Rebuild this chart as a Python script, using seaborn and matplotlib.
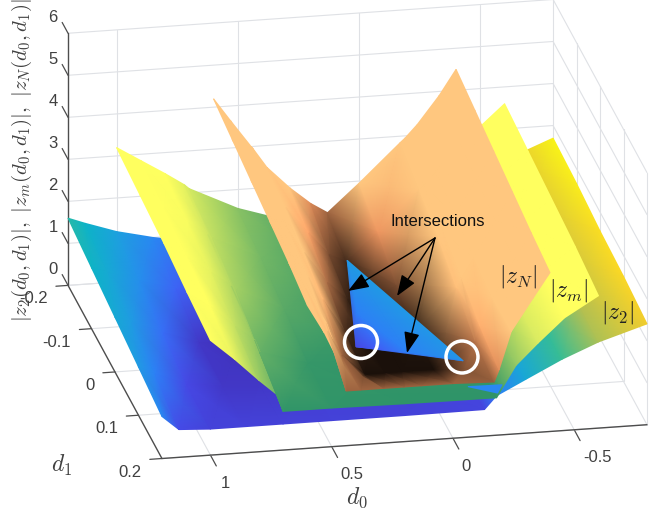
import numpy as np
import matplotlib
matplotlib.use("Agg")
import matplotlib.pyplot as plt
from matplotlib.patches import Circle
from mpl_toolkits.mplot3d import proj3d
import seaborn as sns

# ticks
d0_ticks = [1, 0.5, 0, -0.5]
d0_tick_labels = ["1", "0.5", "0", "-0.5"]
d1_ticks = [-0.2, -0.1, 0, 0.1, 0.2]
d1_tick_labels = ["-0.2", "-0.1", "0", "0.1", "0.2"]
z_ticks = [0, 1, 2, 3, 4, 5, 6]

# |z_2|, rows go back to front
z2_d0 = [1.2, 1.13, 1.0, 0.85, 0.7, 0.5, 0.2, -0.13, -0.18, -0.3, -0.45, -0.6, -0.8]
z2_d1 = [-0.2, -0.1, 0, 0.1, 0.2]
z2_vals = [
    [1.6, 1.45, 1.2, 1.0, 0.85, 0.7, 0.65, 0.8, 0.9, 1.3, 1.8, 2.25, 2.7],
    [1.45, 1.3, 1.05, 0.8, 0.65, 0.6, 0.6, 0.7, 0.85, 1.25, 1.75, 2.2, 2.65],
    [1.3, 1.15, 0.85, 0.55, 0.5, 0.55, 0.6, 0.65, 0.85, 1.2, 1.7, 2.15, 2.55],
    [1.15, 0.95, 0.65, 0.55, 0.55, 0.6, 0.6, 0.63, 0.85, 1.2, 1.65, 2.1, 2.5],
    [1.0, 0.66, 0.62, 0.62, 0.62, 0.62, 0.62, 0.63, 0.94, 1.28, 1.7, 2.05, 2.4],
]

# |z_m|
zm_d0 = [1.0, 0.9, 0.8, 0.72, 0.7, 0.5, 0.2, -0.18, -0.2, -0.26, -0.35, -0.46, -0.6]
zm_d1 = [-0.2, -0.1, 0, 0.1, 0.2]
zm_vals = [
    [3.2, 2.85, 2.5, 2.2, 2.1, 1.55, 1.0, 1.45, 1.55, 1.85, 2.3, 2.9, 3.6],
    [3.1, 2.75, 2.35, 2.05, 1.95, 1.4, 1.0, 1.3, 1.4, 1.7, 2.25, 2.85, 3.5],
    [3.0, 2.6, 2.2, 1.85, 1.75, 1.2, 0.95, 1.1, 1.2, 1.6, 2.2, 2.8, 3.4],
    [2.85, 2.45, 1.95, 1.6, 1.3, 0.95, 0.92, 0.95, 1.15, 1.6, 2.15, 2.72, 3.3],
    [2.73, 2.24, 1.7, 1.3, 0.92, 0.92, 0.9, 0.89, 1.08, 1.63, 2.12, 2.68, 3.15],
]

# |z_N|
zn_d0 = [0.6, 0.53, 0.445, 0.44, 0.38, 0.285, 0.2, 0.13, 0.0, -0.17, -0.19, -0.24, -0.33, -0.4]
zn_d1 = [-0.2, -0.12, -0.04, 0.04, 0.12, 0.2]
zn_vals = [
    [4.2, 3.65, 3.0, 2.97, 2.48, 1.95, 1.55, 1.3, 1.95, 2.85, 2.95, 3.25, 3.9, 4.5],
    [4.05, 3.5, 2.85, 2.8, 2.35, 1.7, 1.15, 0.95, 1.6, 2.55, 2.65, 2.95, 3.7, 4.35],
    [3.9, 3.3, 2.65, 2.6, 2.1, 1.35, 0.9, 0.8, 1.15, 2.25, 2.4, 2.75, 3.55, 4.2],
    [3.75, 3.1, 2.4, 2.35, 1.8, 0.95, 0.8, 0.8, 0.85, 1.85, 2.1, 2.55, 3.4, 4.05],
    [3.6, 2.95, 2.1, 1.9, 1.3, 0.8, 0.8, 0.8, 0.8, 1.4, 1.75, 2.4, 3.3, 3.9],
    [3.4, 2.72, 1.7, 1.3, 1.3, 1.3, 1.3, 1.3, 1.3, 1.27, 1.55, 2.44, 3.2, 3.78],
]

# parts of |z_2| that stick out through the others
patch_d0 = [0.141, 0.2, 0.247, 0.184, 0.084, -0.108]
patch_d1 = [-0.105, -0.004, 0.042, 0.058, 0.091, 0.132]
patch_z = [1.15, 0.95, 0.65, 0.75, 0.95, 1.1]
wedge_d0 = [-0.08, -0.22, -0.184]
wedge_d1 = [0.181, 0.182, 0.2]
wedge_z = [1.0, 1.0, 1.0]

sns.set_theme(style="white")
plt.rcParams["font.family"] = ["Liberation Sans", "DejaVu Sans"]
plt.rcParams["mathtext.fontset"] = "cm"

parula = sns.blend_palette(["#3e26a8", "#4852f5", "#2b83f6", "#1ca4dc", "#0cb5c4",
                            "#3ebe8e", "#97c45f", "#e0bb3c", "#fbd626", "#f9fb15"], as_cmap=True)
summer = sns.blend_palette(["#2f9468", "#ffff5f"], as_cmap=True)
copper = sns.color_palette("copper", as_cmap=True)

W, H = 650, 513
S = 726
fig = plt.figure(figsize=(W / 100, H / 100), dpi=100)
ax = fig.add_axes([-15.3 / W, -88.8 / H, S / W, S / H], projection="3d", proj_type="ortho")
ax.view_init(elev=21, azim=79)
ax.set_xlim(-0.8, 1.2)
ax.set_ylim(-0.2, 0.2)
ax.set_zlim(0, 6)
ax.set_box_aspect((494, 492, 270))
ax.set_axis_off()

grid_c = "#dfe1e5"
axis_c = "#4d4d4d"
# floor and walls
for d in d0_ticks:
    ax.plot([d, d], [-0.2, 0.2], [0, 0], color=grid_c, lw=0.8)
    ax.plot([d, d], [-0.2, -0.2], [0, 6], color=grid_c, lw=0.8)
    ax.plot([d, d], [0.2, 0.225], [0, 0], color=axis_c, lw=0.9)
for d in d1_ticks:
    ax.plot([-0.8, 1.2], [d, d], [0, 0], color=grid_c, lw=0.8)
    ax.plot([-0.8, -0.8], [d, d], [0, 6], color=grid_c, lw=0.8)
    ax.plot([1.2, 1.25], [d, d], [0, 0], color=axis_c, lw=0.9)
for z in z_ticks:
    ax.plot([-0.8, 1.2], [-0.2, -0.2], [z, z], color=grid_c, lw=0.8)
    ax.plot([-0.8, -0.8], [-0.2, 0.2], [z, z], color=grid_c, lw=0.8)
    ax.plot([1.2, 1.2], [-0.2, -0.225], [z, z], color=axis_c, lw=0.9)
ax.plot([1.2, 1.2], [-0.2, -0.2], [0, 6], color=axis_c, lw=1.0)
ax.plot([1.2, 1.2], [-0.2, 0.2], [0, 0], color=axis_c, lw=1.0)
ax.plot([1.2, -0.8], [0.2, 0.2], [0, 0], color=axis_c, lw=1.0)

fig.canvas.draw()
M = ax.get_proj()


def to_px(x, y, z):
    xs, ys, _ = proj3d.proj_transform(np.ravel(x), np.ravel(y), np.ravel(z), M)
    pts = ax.transData.transform(np.column_stack([xs, ys]))
    shape = np.shape(x)
    return pts[:, 0].reshape(shape), (H - pts[:, 1]).reshape(shape)


# surfaces go on a pixel overlay so gouraud shading can be used
over = fig.add_axes([0, 0, 1, 1])
over.set_xlim(0, W)
over.set_ylim(H, 0)
over.set_axis_off()


def draw_surface(d0, d1, vals, cmap, vmin, vmax, zorder):
    vals = np.array(vals)
    X, Y = np.meshgrid(d0, d1)
    px, py = to_px(X, Y, vals)
    over.pcolormesh(px, py, vals, shading="gouraud", cmap=cmap, vmin=vmin, vmax=vmax, zorder=zorder)


draw_surface(z2_d0, z2_d1, z2_vals, parula, 0.45, 2.75, 1)
draw_surface(zm_d0, zm_d1, zm_vals, summer, 0.9, 2.4, 2)
draw_surface(zn_d0, zn_d1, zn_vals, copper, 0.7, 1.9, 3)

for a, b, c in [(patch_d0, patch_d1, patch_z), (wedge_d0, wedge_d1, wedge_z)]:
    px, py = to_px(np.array(a), np.array(b), np.array(c))
    over.tripcolor(px, py, c, shading="gouraud", cmap=parula, vmin=0.45, vmax=2.75, zorder=4)

# tick labels
tick_fs = 12
tc = "#404040"
for z in z_ticks:
    x, y = to_px(np.array(1.2), np.array(-0.2), np.array(z))
    over.text(x - 15, y - 16, str(z), fontsize=tick_fs, color=tc, ha="center", va="center")
for d, lab in zip(d1_ticks, d1_tick_labels):
    x, y = to_px(np.array(1.2), np.array(d), np.array(0))
    over.text(x - 20.5, y + 13.5, lab, fontsize=tick_fs, color=tc, ha="right", va="center")
for d, lab, dx in zip(d0_ticks, d0_tick_labels, [15, 20, 13, 23]):
    x, y = to_px(np.array(d), np.array(0.2), np.array(0))
    over.text(x + dx, y + 28, lab, fontsize=tick_fs, color=tc, ha="center", va="center")

# axis labels
over.text(357, 498, "$d_0$", fontsize=17, color=tc, ha="center", va="center")
over.text(62, 465, "$d_1$", fontsize=17, color=tc, ha="center", va="center")
over.text(22, 160, r"$|z_2(d_0,d_1)|,\ |z_m(d_0,d_1)|,\ |z_N(d_0,d_1)|$", fontsize=15,
          color=tc, rotation=90, ha="center", va="center")

# annotations
over.text(438, 222, "Intersections", fontsize=12, color="#111111", ha="center", va="center", zorder=6)
for tip in [(348, 291), (397, 296), (407, 353)]:
    over.annotate("", xy=tip, xytext=(435, 238), zorder=6,
                  arrowprops=dict(arrowstyle="-|>,head_length=0.8,head_width=0.3", color="black",
                                  lw=1, mutation_scale=16, shrinkA=0, shrinkB=0))
for c in [(361, 342, 16.5), (462, 357, 16)]:
    over.add_patch(Circle(c[:2], c[2], fill=False, ec="white", lw=2.5, zorder=6))
over.text(518, 276, "$|z_N|$", fontsize=17, color="#222222", ha="center", va="center", zorder=6)
over.text(569, 291, "$|z_m|$", fontsize=17, color="#222222", ha="center", va="center", zorder=6)
over.text(618, 312, "$|z_2|$", fontsize=17, color="#222222", ha="center", va="center", zorder=6)

fig.savefig("out.png", dpi=100)
